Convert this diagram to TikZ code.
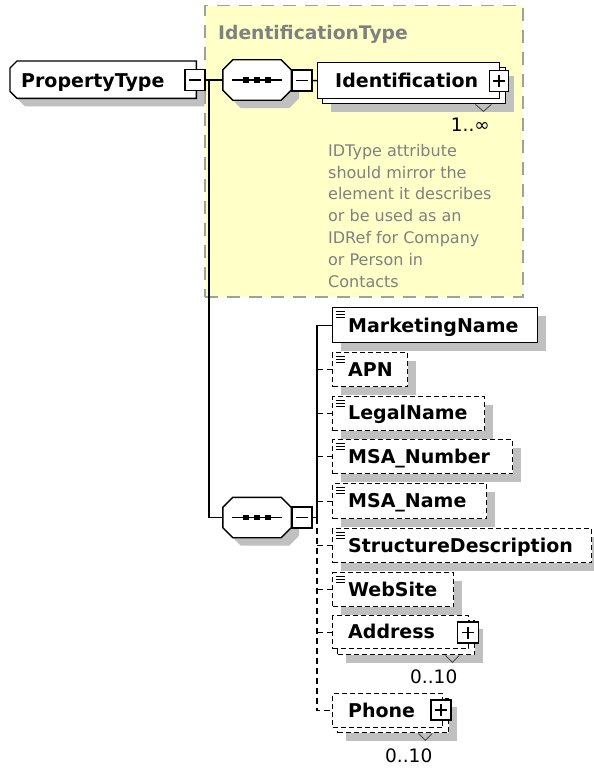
\documentclass[tikz,border=0pt]{standalone}
\usepackage{fontspec}
\setmainfont{DejaVu Sans}
\usetikzlibrary{shadows}
\definecolor{shgray}{RGB}{192,192,192}
\definecolor{notefill}{RGB}{255,255,200}
\definecolor{noteborder}{RGB}{160,160,160}
\definecolor{notetext}{RGB}{128,128,128}
\newcommand\eqicon[1]{\foreach \yy in {4,7,10}{\draw[line width=0.9pt] ([xshift=4pt,yshift=-\yy pt]#1.north west) -- ++(9,0);}}
\newcommand\minusglyph[1]{\draw[conn] ([xshift=-6pt]#1.center) -- ([xshift=6pt]#1.center);}
\newcommand\plusglyph[1]{\draw[conn] ([xshift=-6pt]#1.center) -- ([xshift=6pt]#1.center);\draw[conn] ([yshift=-6pt]#1.center) -- ([yshift=6pt]#1.center);}
\newcommand\seqdots[1]{\draw[conn] ([xshift=-25pt]#1.center) -- ([xshift=25pt]#1.center);
  \foreach \xx in {-11,0,11}{\fill ([xshift=\xx pt]#1.center) ++(-2.7,-2.7) rectangle ++(5.4,5.4);}}
\newcommand\octpts[1]{([xshift=10pt]#1.north west) -- ([xshift=-10pt]#1.north east) -- ([yshift=-10pt]#1.north east) -- ([yshift=10pt]#1.south east) -- ([xshift=-10pt]#1.south east) -- ([xshift=10pt]#1.south west) -- ([yshift=10pt]#1.south west) -- ([yshift=-10pt]#1.north west) -- cycle}
\newcommand\drawoct[1]{\fill[shgray,transform canvas={xshift=8pt,yshift=-8pt}] \octpts{#1}; \filldraw[conn,fill=white] \octpts{#1};}
\newcommand\rootpts[1]{([xshift=7pt]#1.north west) -- (#1.north east) -- (#1.south east) -- ([xshift=7pt]#1.south west) -- ([yshift=7pt]#1.south west) -- ([yshift=-7pt]#1.north west) -- cycle}
\begin{document}
\begin{tikzpicture}[x=1pt,y=-1pt,
  shad/.style={drop shadow={fill=shgray,opacity=1,shadow xshift=8pt,shadow yshift=-8pt}},
  conn/.style={draw=black,line width=1.4pt},
  optconn/.style={draw=black,line width=1.4pt,dash pattern=on 6pt off 4pt},
  elembox/.style={draw=black,fill=white,line width=1.4pt,inner sep=0pt,anchor=north west},
  optbox/.style={elembox,dash pattern=on 5pt off 3pt},
  smallbox/.style={draw=black,fill=white,line width=1.4pt,inner sep=0pt,minimum width=20pt,minimum height=21pt},
  seqshape/.style={inner sep=0pt,minimum width=68pt,minimum height=40pt},
  lbl/.style={font=\fontsize{19}{22}\selectfont\bfseries,inner sep=0pt,anchor=base west},
  card/.style={font=\fontsize{18.5}{22}\selectfont,inner sep=0pt},
  vmark/.style={draw=black!70,line width=0.9pt}
]
\fill[white] (0,0) rectangle (594,768);
\useasboundingbox (0,0) rectangle (594,768);

% annotation group
\node[draw=noteborder,fill=notefill,line width=1.5pt,dash pattern=on 13pt off 9pt,inner sep=0pt,anchor=north west,minimum width=318pt,minimum height=291pt] (note) at (204,5) {};
\node[font=\fontsize{18.7}{22}\selectfont\bfseries,text=notetext,inner sep=0pt,anchor=base west] (ttl) at (218,40) {IdentificationType};
\node[font=\fontsize{16}{21.8}\selectfont,text=notetext,inner sep=0pt,anchor=north west,align=left] (doc) at (328,144) {IDType attribute\\should mirror the\\element it describes\\or be used as an\\IDRef for Company\\or Person in\\Contacts};

% root
\node[inner sep=0pt,minimum width=186pt,minimum height=37pt,anchor=north west] (pt) at (10,61) {};
\fill[shgray,transform canvas={xshift=8pt,yshift=-8pt}] \rootpts{pt};
\filldraw[conn,fill=white] \rootpts{pt};
\node[lbl] (ptl) at (21,87) {PropertyType};
\node[smallbox] (ptm) at (195,80) {};
\minusglyph{ptm}

% first sequence
\node[seqshape] (seq1) at (257,80) {};
\drawoct{seq1}
\seqdots{seq1}
\node[smallbox] (seq1m) at (302,80.5) {};
\minusglyph{seq1m}
\coordinate (j1) at (209,80);
\draw[conn] (ptm.east) -- (seq1.west);

% Identification (multiple)
\node[elembox,minimum width=183pt,minimum height=36pt,shad] (identb) at (322,67) {};
\node[elembox,minimum width=182pt,minimum height=36pt] (ident) at (317,62) {};
\node[lbl] (identl) at (335,87) {Identification};
\node[smallbox,minimum width=19pt] (identp) at (499,81) {};
\plusglyph{identp}
\draw[conn] (seq1m.east) -- (ident.west);
\draw[vmark] ([xshift=-31pt]identb.south east) -- ++(8,7) -- ++(8,-7);
\node[card,anchor=base east] (identc) at (490,131) {1..∞};

% second sequence
\node[seqshape] (seq2) at (257,517.5) {};
\drawoct{seq2}
\seqdots{seq2}
\node[smallbox] (seq2m) at (302,517.5) {};
\minusglyph{seq2m}
\coordinate (b0) at (317,517.5);
\draw[conn] (j1) |- (seq2.west);

% children
\node[elembox,minimum width=205pt,minimum height=35pt,shad] (mkt) at (332,307) {};
\eqicon{mkt}
\node[lbl] at (348,332) {MarketingName};

\node[optbox,minimum width=75pt,minimum height=34pt,shad] (apn) at (332,352) {};
\eqicon{apn}
\node[lbl] at (348,376) {APN};

\node[optbox,minimum width=152pt,minimum height=34pt,shad] (legal) at (332,396) {};
\eqicon{legal}
\node[lbl] at (348,419.5) {LegalName};

\node[optbox,minimum width=180pt,minimum height=34pt,shad] (msanum) at (332,439) {};
\eqicon{msanum}
\node[lbl] at (348,463) {MSA\_Number};

\node[optbox,minimum width=154pt,minimum height=35pt,shad] (msaname) at (332,483) {};
\eqicon{msaname}
\node[lbl] at (348,507.5) {MSA\_Name};

\node[optbox,minimum width=259pt,minimum height=34pt,shad] (struct) at (332,528) {};
\eqicon{struct}
\node[lbl] at (348,552) {StructureDescription};

\node[optbox,minimum width=121pt,minimum height=34pt,shad] (web) at (332,572) {};
\eqicon{web}
\node[lbl] at (348,596) {WebSite};

\node[optbox,minimum width=137pt,minimum height=34pt,shad] (addrb) at (337,620) {};
\node[optbox,minimum width=136pt,minimum height=33pt] (addr) at (332,615) {};
\node[lbl] at (348,638.5) {Address};
\node[smallbox,minimum width=21pt] (addrp) at (468,632.5) {};
\plusglyph{addrp}
\draw[vmark] ([xshift=-30pt]addrb.south east) -- ++(7,7) -- ++(7,-7);
\node[card,anchor=base west] (addrc) at (410,683) {0..10};

\node[optbox,minimum width=111pt,minimum height=34pt,shad] (phoneb) at (337,698) {};
\node[optbox,minimum width=110pt,minimum height=34pt] (phone) at (332,693) {};
\node[lbl] at (348,717) {Phone};
\node[smallbox,minimum width=20pt,minimum height=20pt] (phonep) at (441,710) {};
\plusglyph{phonep}
\draw[vmark] ([xshift=-31pt]phoneb.south east) -- ++(7,7) -- ++(7,-7);
\node[card,anchor=base west] (phonec) at (385,762) {0..10};

% connectors of second sequence
\draw[conn] (seq2m.east) -- (b0);
\draw[conn] (b0) |- (mkt.west);
\draw[optconn] (b0) |- (phone.west);
\foreach \c in {apn,legal,msanum,msaname,struct,web,addr}{\draw[optconn] (b0 |- \c.west) -- (\c.west);}
\end{tikzpicture}
\end{document}
